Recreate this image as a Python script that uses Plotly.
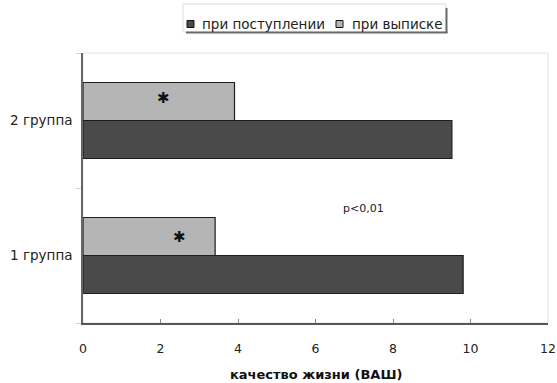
import plotly.graph_objects as go

# Quality of life (VAS) by group, on admission vs. at discharge
groups = ["1 группа", "2 группа"]
admission = [9.81, 9.52]
discharge = [3.41, 3.91]
series_names = ["при поступлении", "при выписке"]

x_ticks = [0, 2, 4, 6, 8, 10, 12]

FONT = "DejaVu Sans, Verdana, sans-serif"
DARK = "#4a4a4a"
LIGHT = "#b5b5b5"
EDGE = "#1e1e1e"

W, H = 557, 383
ML, MR, MT, MB = 83, 9, 53, 60
PW, PH = W - ML - MR, H - MT - MB


def px(xp):
    """horizontal pixel -> paper fraction"""
    return (xp - ML) / PW


def py(yp):
    """vertical pixel (from top) -> paper fraction"""
    return (H - MB - yp) / PH


fig = go.Figure()
fig.add_trace(go.Bar(
    y=groups, x=admission, orientation="h", name=series_names[0],
    marker=dict(color=DARK, line=dict(color=EDGE, width=1.2)),
))
fig.add_trace(go.Bar(
    y=groups, x=discharge, orientation="h", name=series_names[1],
    marker=dict(color=LIGHT, line=dict(color=EDGE, width=1.2)),
))

# significance markers on the discharge bars
for gx, gy in [(2.48, 0.136), (2.07, 1.17)]:
    fig.add_annotation(x=gx, y=gy, xref="x", yref="y", text="✱",
                       showarrow=False, yanchor="middle",
                       font=dict(family=FONT, size=15, color="#111"))

fig.add_annotation(x=7.23, y=0.346, xref="x", yref="y", text="p<0,01",
                   showarrow=False, font=dict(family=FONT, size=11, color="#222"))

# light frame on top/right of the plot area
fig.add_shape(type="rect", xref="paper", yref="paper", x0=0, x1=1, y0=0, y1=1,
              line=dict(color="#e2e2e2", width=1), layer="below")

# legend box with a drop shadow on the right and bottom
fig.add_shape(type="rect", xref="paper", yref="paper",
              x0=px(183), x1=px(446), y0=py(32), y1=py(4),
              line=dict(color="#dcdcdc", width=1), fillcolor="white")
fig.add_shape(type="line", xref="paper", yref="paper",
              x0=px(446.5), x1=px(446.5), y0=py(33), y1=py(8),
              line=dict(color="#6a6a6a", width=2))
fig.add_shape(type="line", xref="paper", yref="paper",
              x0=px(186), x1=px(447.5), y0=py(32.5), y1=py(32.5),
              line=dict(color="#6a6a6a", width=2))

legend_items = [
    (series_names[0], DARK, 187, 200),
    (series_names[1], LIGHT, 336, 350),
]
for name, col, sx, tx in legend_items:
    fig.add_shape(type="rect", xref="paper", yref="paper",
                  x0=px(sx), x1=px(sx + 7), y0=py(27.5), y1=py(20.5),
                  line=dict(color="#111", width=1), fillcolor=col)
    fig.add_annotation(x=px(tx), y=py(23.5), xref="paper", yref="paper",
                       text=name, showarrow=False, xanchor="left", yanchor="middle",
                       font=dict(family=FONT, size=13.5, color="#222"))

# axis title
fig.add_annotation(x=0.5, y=py(374), xref="paper", yref="paper",
                   text="качество жизни (ВАШ)", showarrow=False,
                   xanchor="center", yanchor="middle",
                   font=dict(family=FONT, size=13, color="#111", weight="bold"))

fig.update_layout(
    width=W, height=H,
    margin=dict(l=ML, r=MR, t=MT, b=MB, autoexpand=False),
    paper_bgcolor="white", plot_bgcolor="white",
    barmode="group", bargap=0.437, bargroupgap=0,
    font=dict(family=FONT, size=12, color="#222"),
    showlegend=False,
    xaxis=dict(range=[0, 12], tickvals=x_ticks, ticktext=[str(v) for v in x_ticks],
               automargin=False,
               showgrid=False, zeroline=False, showline=True, linecolor="#555",
               linewidth=1.5, ticks="inside", ticklen=4, tickcolor="#888",
               ticklabelstandoff=13,
               tickfont=dict(family=FONT, size=12.5, color="#222")),
    yaxis=dict(range=[-0.5, 1.5], categoryorder="array", categoryarray=groups,
               automargin=False,
               showgrid=False, zeroline=False, showline=True, linecolor="#666",
               linewidth=1.5, ticks="outside", ticklen=5, tickcolor="#d0d0d0",
               tickson="boundaries", ticklabelstandoff=6,
               tickfont=dict(family=FONT, size=13.5, color="#222")),
)

fig.write_html("out.html")
